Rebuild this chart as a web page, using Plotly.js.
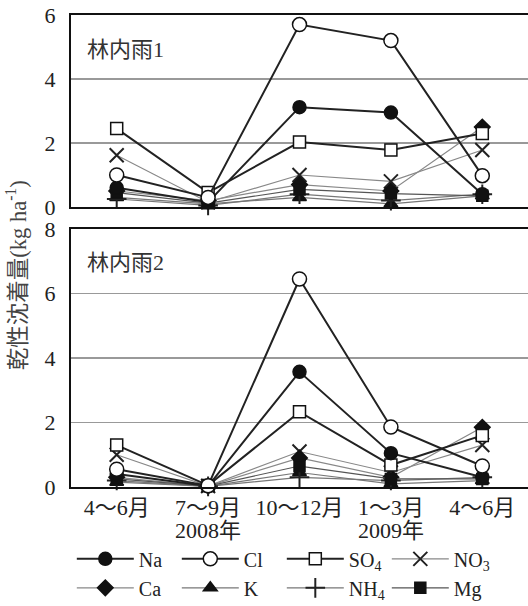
<!DOCTYPE html>
<html>
<head>
<meta charset="utf-8">
<script src="https://cdn.plot.ly/plotly-3.0.1.min.js"></script>
<style>html,body{margin:0;padding:0;background:#fff;}</style>
</head>
<body>
<div id="chart" style="width:528px;height:606px;"></div>
<script>
// ---- data ----
const periods = ["4～6月", "7～9月", "10～12月", "1～3月", "4～6月"];
const yearLabels = ["", "2008年", "", "2009年", ""];
const ions = ["Na", "Cl", "SO<sub>4</sub>", "NO<sub>3</sub>", "Ca", "K", "NH<sub>4</sub>", "Mg"];

// 林内雨1 (kg ha-1)
const rain1_Na  = [0.60, 0.15, 3.12, 2.95, 0.40];
const rain1_Cl  = [1.00, 0.30, 5.70, 5.20, 0.98];
const rain1_SO4 = [2.45, 0.45, 2.03, 1.78, 2.30];
const rain1_NO3 = [1.62, 0.15, 1.00, 0.80, 1.78];
const rain1_Ca  = [0.50, 0.20, 0.70, 0.50, 2.50];
const rain1_K   = [0.30, 0.10, 0.30, 0.10, 0.35];
const rain1_NH4 = [0.25, 0.05, 0.40, 0.20, 0.40];
const rain1_Mg  = [0.45, 0.12, 0.55, 0.42, 0.35];

// 林内雨2 (kg ha-1)
const rain2_Na  = [0.40, 0.03, 3.57, 1.05, 0.30];
const rain2_Cl  = [0.55, 0.04, 6.45, 1.86, 0.65];
const rain2_SO4 = [1.30, 0.05, 2.33, 0.68, 1.60];
const rain2_NO3 = [1.00, 0.03, 1.10, 0.45, 1.30];
const rain2_Ca  = [0.30, 0.03, 0.90, 0.30, 1.85];
const rain2_K   = [0.15, 0.02, 0.45, 0.10, 0.20];
const rain2_NH4 = [0.20, 0.02, 0.30, 0.20, 0.30];
const rain2_Mg  = [0.25, 0.03, 0.65, 0.25, 0.25];

const xIdx = periods.map((_, i) => i);

// ---- styles ----
const FONT = "Liberation Serif, 'Noto Sans CJK JP', serif";
const styles = [
  {symbol: "circle", color: "#111", fill: "#111", lw: 2, lc: "#222"},
  {symbol: "circle", color: "#111", fill: "#fff", lw: 2, lc: "#222"},
  {symbol: "square", color: "#111", fill: "#fff", lw: 2, lc: "#222"},
  {symbol: "x-thin-open", color: "#222", fill: "#222", lw: 1.2, lc: "#888"},
  {symbol: "diamond", color: "#111", fill: "#111", lw: 1.2, lc: "#888"},
  {symbol: "triangle-up", color: "#111", fill: "#111", lw: 1.2, lc: "#777"},
  {symbol: "cross-thin-open", color: "#222", fill: "#222", lw: 1.2, lc: "#777"},
  {symbol: "square", color: "#111", fill: "#111", lw: 1.2, lc: "#555"}
];
const sizes = [13, 14, 12, 14, 12, 12, 14, 11];

const set1 = [rain1_Na, rain1_Cl, rain1_SO4, rain1_NO3, rain1_Ca, rain1_K, rain1_NH4, rain1_Mg];
const set2 = [rain2_Na, rain2_Cl, rain2_SO4, rain2_NO3, rain2_Ca, rain2_K, rain2_NH4, rain2_Mg];

function makeTrace(vals, i, xa, ya, showLeg) {
  const s = styles[i];
  return {
    x: xIdx, y: vals, xaxis: xa, yaxis: ya, type: "scatter", mode: "lines+markers",
    name: ions[i], showlegend: showLeg, legendgroup: "g" + i,
    line: {color: s.lc, width: s.lw},
    marker: {symbol: s.symbol, size: sizes[i], color: s.fill,
             line: {color: s.color, width: (s.symbol.indexOf("thin") >= 0) ? 2 : 1.5}},
    cliponaxis: false
  };
}

const traces = [];
// draw thin ones first, bold ones last (legend order kept via legendrank)
const order = [3, 4, 5, 6, 7, 2, 0, 1];
order.forEach(i => { const t = makeTrace(set1[i], i, "x", "y", true); t.legendrank = i + 1; traces.push(t); });
order.forEach(i => { traces.push(makeTrace(set2[i], i, "x2", "y2", false)); });

const axisCommon = {
  showline: true, linecolor: "#111", linewidth: 2, mirror: false,
  ticks: "", zeroline: false, automargin: false,
  tickfont: {family: FONT, size: 22, color: "#222"}
};

const layout = {
  width: 528, height: 606,
  margin: {l: 71, r: 0, t: 15, b: 119},
  paper_bgcolor: "#fff", plot_bgcolor: "#fff",
  font: {family: FONT, color: "#222"},
  showlegend: true,
  xaxis: Object.assign({}, axisCommon, {
    domain: [0, 1], range: [-0.5, 4.5], anchor: "y",
    showticklabels: false, showgrid: false, mirror: true
  }),
  yaxis: Object.assign({}, axisCommon, {
    domain: [0.5932, 1], range: [0, 6], tickvals: [0, 2, 4, 6],
    showgrid: true, gridcolor: "#999", gridwidth: 1.3, anchor: "x", ticklabelstandoff: 9
  }),
  xaxis2: Object.assign({}, axisCommon, {
    domain: [0, 1], range: [-0.5, 4.5], anchor: "y2",
    tickvals: xIdx, ticktext: periods, showgrid: false, mirror: true, ticklabelstandoff: 0
  }),
  yaxis2: Object.assign({}, axisCommon, {
    domain: [0, 0.5466], range: [0, 8], tickvals: [0, 2, 4, 6, 8],
    showgrid: true, gridcolor: "#999", gridwidth: 1.3, anchor: "x2", ticklabelstandoff: 9
  }),
  legend: {
    orientation: "h", xref: "container", yref: "container",
    x: 0.136, xanchor: "left", y: 0.11, yanchor: "top",
    font: {family: FONT, size: 20, color: "#222"},
    itemwidth: 57, entrywidth: 33, entrywidthmode: "pixels",
    traceorder: "normal", bgcolor: "rgba(0,0,0,0)", tracegroupgap: 0
  },
  annotations: [
    {text: "林内雨1", xref: "x", yref: "y domain", x: -0.35, y: 0.82, xanchor: "left", yanchor: "middle",
     showarrow: false, font: {family: FONT, size: 22, color: "#333"}},
    {text: "林内雨2", xref: "x2", yref: "y2 domain", x: -0.35, y: 0.872, xanchor: "left", yanchor: "middle",
     showarrow: false, font: {family: FONT, size: 22, color: "#333"}},
    {text: "乾性沈着量(kg ha<sup>-1</sup>)", xref: "paper", yref: "paper", x: -0.12, y: 0.449, textangle: -90,
     xanchor: "center", yanchor: "middle", showarrow: false, font: {family: FONT, size: 22.5, color: "#444"}}
  ]
};
yearLabels.forEach((t, i) => {
  if (t) layout.annotations.push({text: t, xref: "x2", yref: "paper", x: xIdx[i], y: -0.0932,
    xanchor: "center", yanchor: "middle", showarrow: false, font: {family: FONT, size: 22, color: "#222"}});
});

Plotly.newPlot("chart", traces, layout, {displayModeBar: false, staticPlot: true});
</script>
</body>
</html>
